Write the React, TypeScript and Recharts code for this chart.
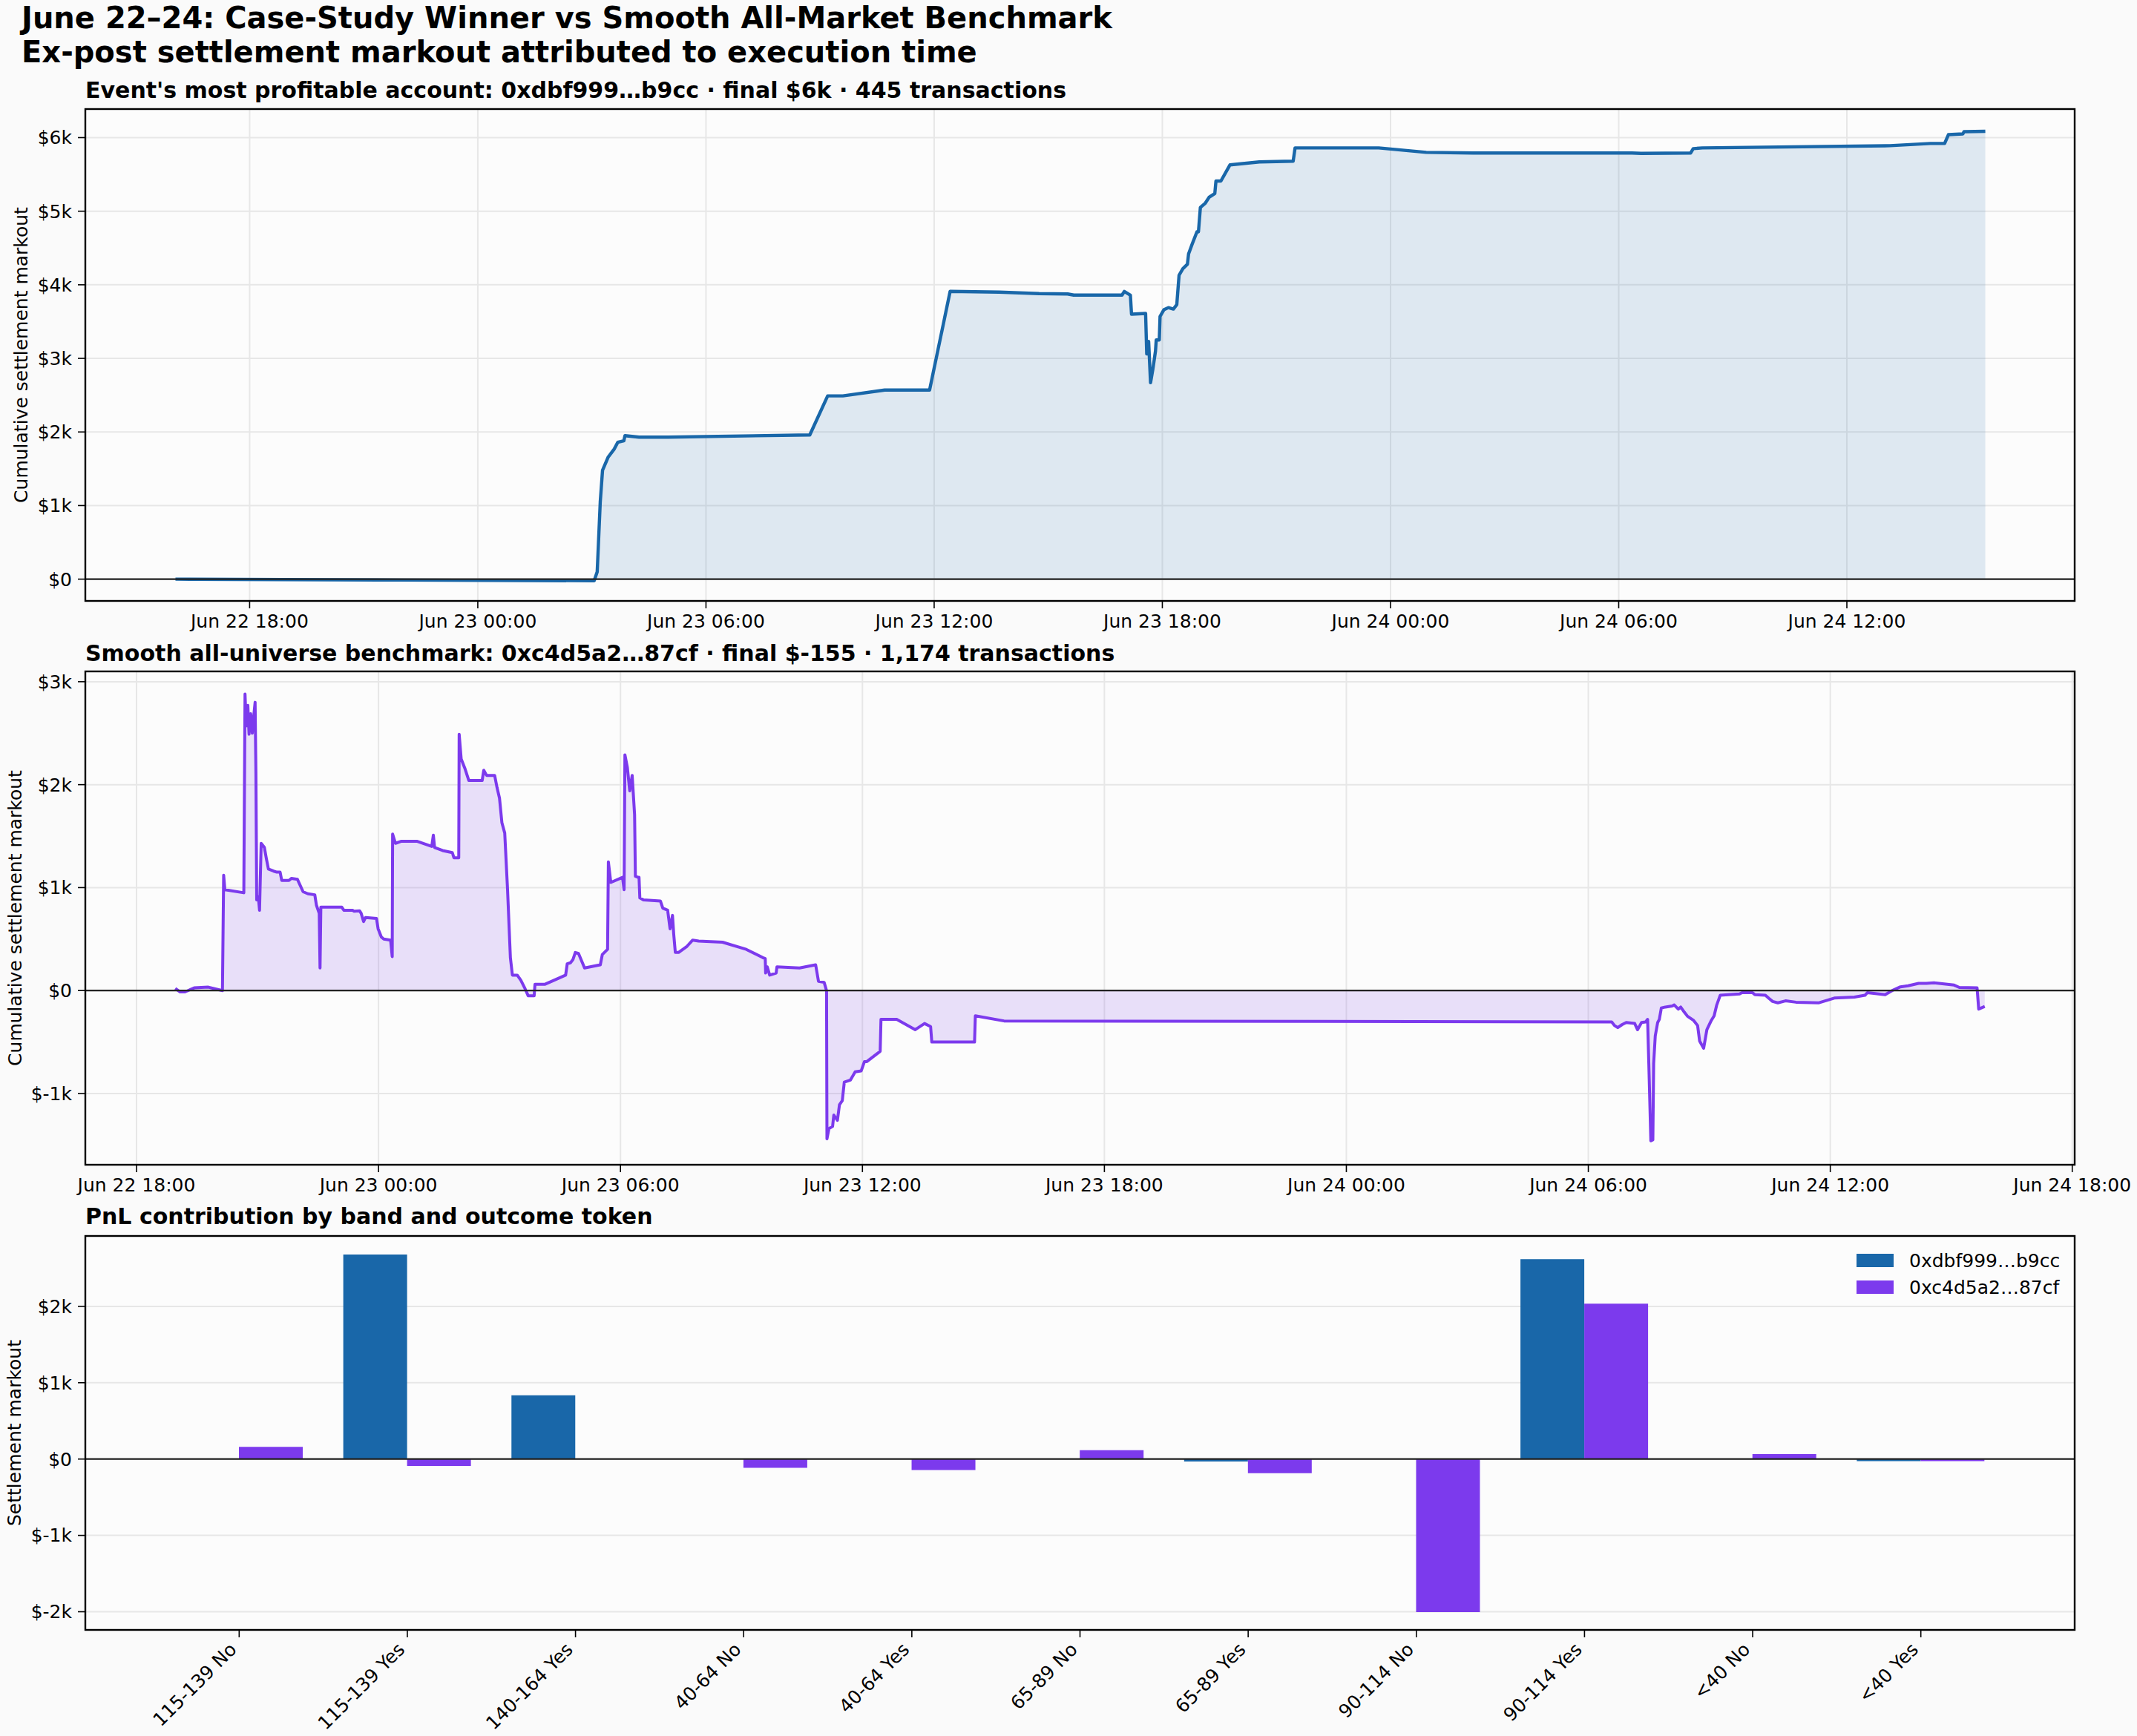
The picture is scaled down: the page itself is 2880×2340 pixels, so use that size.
import React from "react";
import {
  ComposedChart,
  Area,
  BarChart,
  Bar,
  XAxis,
  YAxis,
  CartesianGrid,
  ReferenceLine,
} from "recharts";

const WINNER = "#1967a9";
const BENCH = "#7c3aed";
const FONT = "DejaVu Sans";
const GRID = "#e7e7e7";

// Cumulative settlement markout, time in hours since Jun 22 00:00
const winnerHours = [
  16.05, 22.0, 27.06, 27.14, 27.22, 27.28, 27.43, 27.59, 27.68, 27.84, 27.87, 28.24, 29.0,
  32.73, 33.2, 33.6, 34.7, 35.88, 36.42, 37.71, 38.76, 39.51, 39.67, 40.94, 41.0, 41.16,
  41.19, 41.56, 41.59, 41.64, 41.69, 41.75, 41.82, 41.84, 41.92, 41.94, 42.04, 42.16, 42.29,
  42.38, 42.44, 42.54, 42.66, 42.69, 42.79, 42.91, 42.95, 43.0, 43.13, 43.23, 43.38, 43.41,
  43.54, 43.78, 44.55, 45.44, 45.49, 47.69, 48.94, 50.18, 54.35, 54.59, 55.89, 55.96, 56.2,
  61.13, 62.2, 62.57, 62.67, 63.05, 63.08, 63.64,
];
const winnerPnl = [
  0, -12, -22, 100, 1050, 1480, 1660, 1770, 1860, 1880, 1950, 1930, 1930,
  1960, 2490, 2490, 2570, 2570, 3910, 3900, 3880, 3875, 3860, 3860, 3910, 3860,
  3600, 3610, 3060, 3230, 2670, 2850, 3100, 3250, 3250, 3570, 3660, 3690, 3670,
  3730, 4130, 4220, 4280, 4420, 4560, 4720, 4720, 5050, 5110, 5190, 5240, 5410,
  5410, 5630, 5670, 5680, 5860, 5860, 5800, 5790, 5790, 5785, 5790, 5850, 5860,
  5890, 5920, 5920, 6040, 6050, 6080, 6085,
];

const benchHours = [
  18.96, 19.08, 19.2, 19.43, 19.78, 20.13, 20.16, 20.19, 20.66, 20.69, 20.72, 20.76, 20.79,
  20.83, 20.87, 20.9, 20.94, 20.96, 20.98, 21.02, 21.05, 21.09, 21.17, 21.22, 21.27, 21.4,
  21.48, 21.56, 21.6, 21.78, 21.84, 21.99, 22.13, 22.25, 22.42, 22.46, 22.53, 22.55, 22.57,
  22.62, 23.09, 23.14, 23.36, 23.39, 23.53, 23.57, 23.63, 23.68, 23.95, 23.99, 24.07, 24.13,
  24.3, 24.34, 24.35, 24.42, 24.57, 24.95, 25.32, 25.36, 25.39, 25.59, 25.83, 25.87, 25.99,
  26.0, 26.05, 26.14, 26.24, 26.57, 26.61, 26.68, 26.88, 26.94, 27.0, 27.06, 27.13, 27.2,
  27.27, 27.32, 27.44, 27.53, 27.62, 27.71, 27.86, 27.88, 28.12, 28.35, 28.64, 28.68, 28.76,
  28.82, 28.88, 28.96, 29.11, 29.5, 29.55, 29.68, 29.7, 29.76, 30.05, 30.09, 30.11, 30.17,
  30.23, 30.29, 30.35, 30.37, 30.44, 30.46, 30.48, 30.57, 30.99, 31.05, 31.17, 31.23, 31.29,
  31.32, 31.36, 31.44, 31.65, 31.79, 31.94, 32.53, 33.12, 33.53, 33.59, 33.6, 33.64, 33.7,
  33.86, 33.88, 34.44, 34.84, 34.91, 35.05, 35.11, 35.12, 35.17, 35.26, 35.29, 35.38, 35.43,
  35.5, 35.55, 35.7, 35.82, 35.97, 36.05, 36.11, 36.44, 36.46, 36.85, 37.31, 37.54, 37.69,
  37.72, 38.78, 38.8, 39.51, 54.58, 54.65, 54.73, 54.84, 54.94, 55.15, 55.22, 55.32, 55.42,
  55.47, 55.5, 55.55, 55.6, 55.62, 55.66, 55.72, 55.76, 55.81, 55.91, 56.08, 56.13, 56.23,
  56.29, 56.38, 56.46, 56.61, 56.71, 56.76, 56.86, 56.94, 57.05, 57.12, 57.18, 57.27, 57.75,
  57.81, 58.07, 58.13, 58.39, 58.49, 58.57, 58.7, 58.89, 59.15, 59.72, 60.1, 60.6, 60.86,
  60.92, 61.36, 61.55, 61.74, 61.93, 62.19, 62.38, 62.57, 63.07, 63.2, 63.64, 63.68, 63.83,
];
const benchPnl = [
  20, -13, -13, 26, 33, 0, 1120, 980, 950, 2880, 2570, 2770, 2490,
  2690, 2500, 2640, 2800, 2110, 880, 910, 780, 1430, 1390, 1280, 1180, 1160,
  1150, 1150, 1070, 1070, 1090, 1080, 960, 940, 930, 830, 750, 220, 810,
  810, 810, 780, 780, 770, 775, 750, 670, 710, 700, 600, 520, 500,
  490, 330, 1520, 1430, 1450, 1450, 1400, 1510, 1390, 1360, 1340, 1290, 1290,
  2490, 2250, 2160, 2040, 2040, 2140, 2090, 2090, 1970, 1870, 1630, 1530, 980,
  320, 150, 150, 100, 30, -50, -50, 60, 60, 100, 150, 260, 270,
  300, 370, 360, 220, 250, 350, 400, 1250, 1050, 1100, 980, 2290, 2170,
  1940, 2090, 1710, 1110, 1100, 1100, 900, 880, 870, 800, 780, 600, 730,
  550, 370, 370, 430, 490, 480, 470, 400, 320, 310, 170, 230, 150,
  170, 230, 220, 250, 90, 80, 0, -1440, -1340, -1320, -1210, -1260, -1110,
  -1070, -890, -870, -790, -780, -690, -690, -590, -280, -280, -380, -320, -350,
  -500, -500, -245, -295, -305, -340, -360, -330, -310, -320, -380, -310, -305,
  -280, -710, -1460, -1450, -710, -440, -310, -280, -170, -160, -150, -140, -180,
  -160, -210, -250, -290, -340, -490, -560, -380, -290, -245, -146, -46, -33,
  -20, -20, -40, -46, -80, -106, -119, -100, -113, -119, -73, -63, -46,
  -20, -40, 3, 36, 46, 70, 70, 76, 53, 30, 26, -180, -155,
];

// Markout by price band and outcome token
const bands = [
  "115-139 No", "115-139 Yes", "140-164 Yes", "40-64 No", "40-64 Yes", "65-89 No",
  "65-89 Yes", "90-114 No", "90-114 Yes", "<40 No", "<40 Yes",
];
const winnerByBand = [0, 2680, 835, 0, 0, 0, -32, 0, 2619, 0, -28];
const benchByBand = [160, -90, 0, -115, -145, 115, -185, -2005, 2035, 64, -28];

const timeTicksTop = [18, 24, 30, 36, 42, 48, 54, 60];
const timeTicksMid = [18, 24, 30, 36, 42, 48, 54, 60, 66];
const pnlTicksTop = [0, 1000, 2000, 3000, 4000, 5000, 6000];
const pnlTicksMid = [-1000, 0, 1000, 2000, 3000];
const pnlTicksBands = [-2000, -1000, 0, 1000, 2000];

const winnerSeries = winnerHours.map((t, i) => ({ t, v: winnerPnl[i] }));
const benchSeries = benchHours.map((t, i) => ({ t, v: benchPnl[i] }));
const bandRows = bands.map((band, i) => ({
  band,
  winner: winnerByBand[i],
  bench: benchByBand[i],
}));

const fmtTime = (h: number) => {
  const day = 22 + Math.floor(h / 24);
  const hh = String(h % 24).padStart(2, "0");
  return `Jun ${day} ${hh}:00`;
};
const fmtMoney = (v: number) => (v === 0 ? "$0" : `$${v / 1000}k`);

const tickStyle = { fill: "#000", fontSize: 25, fontFamily: FONT };
const PLOT_LEFT = 115;
const PLOT_W = 2681;
const RIGHT_MARGIN = 2880 - PLOT_LEFT - PLOT_W;

const RotatedTick = (props: any) => {
  const { x, y, payload } = props;
  return (
    <text
      x={x - 2}
      y={y}
      transform={`rotate(-45, ${x - 2}, ${y})`}
      textAnchor="end"
      fill="#000"
      fontSize={25}
      fontFamily={FONT}
    >
      {payload.value}
    </text>
  );
};

function TimePanel({
  data,
  color,
  lineWidth,
  fillOpacity,
  xDomain,
  xTicks,
  yDomain,
  yTicks,
  height,
}: {
  data: { t: number; v: number }[];
  color: string;
  lineWidth: number;
  fillOpacity: number;
  xDomain: [number, number];
  xTicks: number[];
  yDomain: [number, number];
  yTicks: number[];
  height: number;
}) {
  return (
    <ComposedChart
      width={2880}
      height={height + 60}
      data={data}
      margin={{ top: 0, right: RIGHT_MARGIN, bottom: 0, left: 0 }}
    >
      <CartesianGrid stroke={GRID} strokeWidth={2} fill="#fcfcfc" />
      <XAxis
        dataKey="t"
        type="number"
        domain={xDomain}
        allowDataOverflow
        ticks={xTicks}
        tickFormatter={fmtTime}
        axisLine={false}
        tickSize={10}
        tickMargin={8}
        tickLine={{ stroke: "#000", strokeWidth: 1.6 }}
        tick={tickStyle}
        height={60}
      />
      <YAxis
        type="number"
        domain={yDomain}
        allowDataOverflow
        ticks={yTicks}
        tickFormatter={fmtMoney}
        axisLine={false}
        tickSize={10}
        tickMargin={8}
        tickLine={{ stroke: "#000", strokeWidth: 1.6 }}
        tick={tickStyle}
        width={PLOT_LEFT}
      />
      <ReferenceLine y={0} stroke="#222" strokeWidth={2.2} />
      <Area
        type="linear"
        dataKey="v"
        baseValue={0}
        stroke={color}
        strokeWidth={lineWidth}
        strokeLinejoin="round"
        fill={color}
        fillOpacity={fillOpacity}
        dot={false}
        activeDot={false}
        isAnimationActive={false}
      />
    </ComposedChart>
  );
}

function BandPanel() {
  return (
    <BarChart
      width={2880}
      height={531 + 150}
      data={bandRows}
      margin={{ top: 0, right: RIGHT_MARGIN, bottom: 0, left: 0 }}
      barCategoryGap={27}
      barGap={0}
    >
      <CartesianGrid vertical={false} stroke={GRID} strokeWidth={2} fill="#fcfcfc" />
      <XAxis
        dataKey="band"
        type="category"
        interval={0}
        padding={{ left: 94, right: 94 }}
        axisLine={false}
        tickSize={10}
        tickMargin={18}
        tickLine={{ stroke: "#000", strokeWidth: 1.6 }}
        tick={<RotatedTick />}
        height={150}
      />
      <YAxis
        type="number"
        domain={[-2238, 2922]}
        allowDataOverflow
        ticks={pnlTicksBands}
        tickFormatter={fmtMoney}
        axisLine={false}
        tickSize={10}
        tickMargin={8}
        tickLine={{ stroke: "#000", strokeWidth: 1.6 }}
        tick={tickStyle}
        width={PLOT_LEFT}
      />
      <Bar dataKey="winner" fill={WINNER} isAnimationActive={false} />
      <Bar dataKey="bench" fill={BENCH} isAnimationActive={false} />
      <ReferenceLine y={0} stroke="#222" strokeWidth={2.2} />
    </BarChart>
  );
}

export default function App() {
  return (
    <div
      style={{
        position: "absolute",
        left: 0,
        top: 0,
        width: 2880,
        height: 2340,
        background: "#fafafa",
        overflow: "hidden",
      }}
    >
      <div style={{ position: "absolute", left: 0, top: 147 }}>
        <TimePanel
          data={winnerSeries}
          color={WINNER}
          lineWidth={4.4}
          fillOpacity={0.13}
          xDomain={[13.68, 65.99]}
          xTicks={timeTicksTop}
          yDomain={[-296, 6388]}
          yTicks={pnlTicksTop}
          height={663}
        />
      </div>
      <div style={{ position: "absolute", left: 0, top: 905 }}>
        <TimePanel
          data={benchSeries}
          color={BENCH}
          lineWidth={4}
          fillOpacity={0.15}
          xDomain={[16.73, 66.06]}
          xTicks={timeTicksMid}
          yDomain={[-1692, 3100]}
          yTicks={pnlTicksMid}
          height={665}
        />
      </div>
      <div style={{ position: "absolute", left: 0, top: 1666 }}>
        <BandPanel />
      </div>

      <svg
        width={2880}
        height={2340}
        style={{ position: "absolute", left: 0, top: 0, pointerEvents: "none" }}
        fontFamily={FONT}
      >
        <text x={29} y={37.5} fontSize={40} fontWeight="bold" fill="#000">
          June 22–24: Case-Study Winner vs Smooth All-Market Benchmark
        </text>
        <text x={29} y={83.5} fontSize={40} fontWeight="bold" fill="#000">
          Ex-post settlement markout attributed to execution time
        </text>

        <text x={115} y={131.5} fontSize={30} fontWeight="bold" fill="#000">
          Event's most profitable account: 0xdbf999…b9cc · final $6k · 445 transactions
        </text>
        <text x={115} y={891} fontSize={30} fontWeight="bold" fill="#000">
          Smooth all-universe benchmark: 0xc4d5a2…87cf · final $-155 · 1,174 transactions
        </text>
        <text x={115} y={1649.5} fontSize={30} fontWeight="bold" fill="#000">
          PnL contribution by band and outcome token
        </text>

        <text
          transform="translate(37, 478.5) rotate(-90)"
          textAnchor="middle"
          fontSize={25}
          fill="#000"
        >
          Cumulative settlement markout
        </text>
        <text
          transform="translate(29, 1237.5) rotate(-90)"
          textAnchor="middle"
          fontSize={25}
          fill="#000"
        >
          Cumulative settlement markout
        </text>
        <text
          transform="translate(27.5, 1931.5) rotate(-90)"
          textAnchor="middle"
          fontSize={25}
          fill="#000"
        >
          Settlement markout
        </text>

        <rect x={PLOT_LEFT} y={147} width={PLOT_W} height={663} fill="none" stroke="#000" strokeWidth={2.4} />
        <rect x={PLOT_LEFT} y={905} width={PLOT_W} height={665} fill="none" stroke="#000" strokeWidth={2.4} />
        <rect x={PLOT_LEFT} y={1666} width={PLOT_W} height={531} fill="none" stroke="#000" strokeWidth={2.4} />

        <rect x={2502} y={1690} width={50} height={18} fill={WINNER} />
        <text x={2573} y={1708} fontSize={25} fill="#000">
          0xdbf999…b9cc
        </text>
        <rect x={2502} y={1726} width={50} height={18} fill={BENCH} />
        <text x={2573} y={1744} fontSize={25} fill="#000">
          0xc4d5a2…87cf
        </text>
      </svg>
    </div>
  );
}
